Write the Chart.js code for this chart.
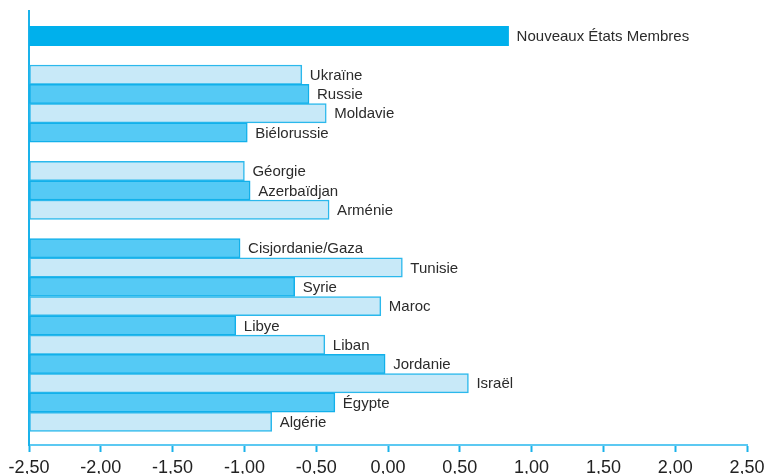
<!DOCTYPE html>
<html>
<head>
<meta charset="utf-8">
<script src="https://cdn.jsdelivr.net/npm/chart.js@4/dist/chart.umd.min.js"></script>
<style>
  html, body { margin: 0; padding: 0; background: #ffffff; }
  #wrap { width: 766px; height: 474px; position: relative; }
</style>
</head>
<body>
<div id="wrap"><canvas id="c" width="766" height="474"></canvas></div>
<script>
// Rows from top to bottom; '' marks an empty spacer row between groups
const categories = [
  'Nouveaux États Membres', '',
  'Ukraïne', 'Russie', 'Moldavie', 'Biélorussie', '',
  'Géorgie', 'Azerbaïdjan', 'Arménie', '',
  'Cisjordanie/Gaza', 'Tunisie', 'Syrie', 'Maroc', 'Libye', 'Liban',
  'Jordanie', 'Israël', 'Égypte', 'Algérie'
];
const values = [
  0.84, null,
  -0.60, -0.55, -0.43, -0.98, null,
  -1.00, -0.96, -0.41, null,
  -1.03, 0.10, -0.65, -0.05, -1.06, -0.44,
  -0.02, 0.56, -0.37, -0.81
];
const shades = [
  'nem', '',
  'light', 'dark', 'light', 'dark', '',
  'light', 'dark', 'light', '',
  'dark', 'light', 'dark', 'light', 'dark', 'light',
  'dark', 'light', 'dark', 'light'
];
const xTicks = [-2.5, -2.0, -1.5, -1.0, -0.5, 0, 0.5, 1.0, 1.5, 2.0, 2.5];

const fillColors = { nem: '#00b0ec', dark: '#55caf5', light: '#c8e9f8' };
const edgeColors = { nem: '#00b0ec', dark: '#12b0ea', light: '#2bb8ec' };

const rows = [];
values.forEach((v, i) => {
  if (v !== null) rows.push({ x: v, y: i, label: categories[i], shade: shades[i] });
});

const labelPlugin = {
  id: 'barLabels',
  afterDatasetsDraw(chart) {
    const ctx = chart.ctx;
    const meta = chart.getDatasetMeta(0);
    ctx.save();
    ctx.font = '15px "Liberation Sans", Arial, sans-serif';
    ctx.fillStyle = '#2b2b2b';
    ctx.textBaseline = 'middle';
    ctx.textAlign = 'left';
    meta.data.forEach((bar, i) => {
      ctx.fillText(rows[i].label, bar.x + 8, bar.y + 1);
    });
    ctx.restore();
  }
};

new Chart(document.getElementById('c'), {
  type: 'bar',
  data: {
    datasets: [{
      data: rows.map(r => ({ x: r.x, y: r.y })),
      base: -2.5,
      backgroundColor: rows.map(r => fillColors[r.shade]),
      borderColor: rows.map(r => edgeColors[r.shade]),
      borderWidth: 1.5,
      borderSkipped: false,
      categoryPercentage: 1,
      barPercentage: 1
    }]
  },
  options: {
    indexAxis: 'y',
    responsive: false,
    animation: false,
    events: [],
    layout: { padding: { left: 29, right: 19, top: 11, bottom: 0 } },
    plugins: { legend: { display: false }, tooltip: { enabled: false } },
    scales: {
      x: {
        type: 'linear',
        min: -2.5,
        max: 2.5,
        afterBuildTicks(scale) { scale.ticks = xTicks.map(v => ({ value: v })); },
        afterFit(scale) {
          scale.height = 29;
          scale.paddingLeft = 0;
          scale.paddingRight = 0;
        },
        ticks: {
          autoSkip: false,
          maxRotation: 0,
          padding: 5,
          color: '#222222',
          font: { family: '"Liberation Sans", Arial, sans-serif', size: 18 },
          callback: v => v.toFixed(2).replace('.', ',')
        },
        grid: {
          drawOnChartArea: false,
          drawTicks: true,
          tickLength: 7,
          tickWidth: 2,
          tickColor: '#1ab2ea'
        },
        border: { display: true, color: '#5cc9f2', width: 2 }
      },
      y: {
        type: 'linear',
        reverse: true,
        offset: false,
        grace: 0,
        min: -1.3,
        max: 21.2,
        afterFit(scale) { scale.width = 0; },
        ticks: { display: false },
        grid: { display: false, drawTicks: false, offset: false },
        border: { display: true, color: '#1ab2ea', width: 2 }
      }
    }
  },
  plugins: [labelPlugin]
});
</script>
</body>
</html>
